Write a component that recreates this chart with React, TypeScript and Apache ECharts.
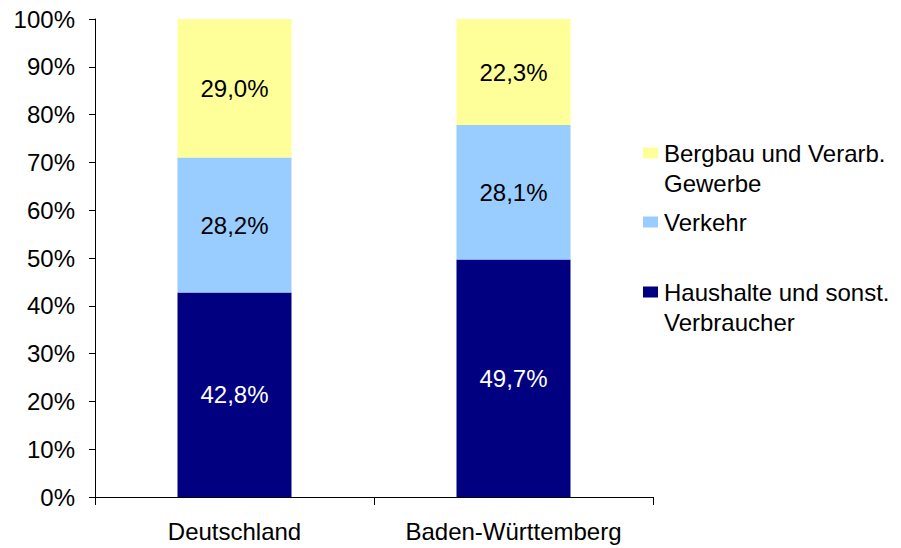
import React, { useEffect, useRef } from "react";
import * as echarts from "echarts";

const categories = ["Deutschland", "Baden-Württemberg"];
const seriesNames = ["Haushalte und sonst. Verbraucher", "Verkehr", "Bergbau und Verarb. Gewerbe"];
const haushalte = [42.8, 49.7];
const verkehr = [28.2, 28.1];
const bergbau = [29.0, 22.3];
const colors = ["#000080", "#99CCFF", "#FFFF99"];
const labelColors = ["#ffffff", "#000000", "#000000"];

const FONT = "'Liberation Sans', Arial, sans-serif";
const FS = 24;

const fmt = (v: number) => v.toFixed(1).replace(".", ",") + "%";

export default function App() {
  const ref = useRef<HTMLDivElement>(null);
  useEffect(() => {
    if (!ref.current) return;
    const chart = echarts.init(ref.current, undefined, { renderer: "svg" });
    const values = [haushalte, verkehr, bergbau];
    const legendText = (name: string) => {
      if (name === seriesNames[2]) return "\nBergbau und Verarb.\nGewerbe";
      if (name === seriesNames[0]) return "\nHaushalte und sonst.\nVerbraucher";
      return name;
    };
    const legendBase = {
      orient: "vertical" as const,
      left: 643,
      padding: 0,
      itemWidth: 15,
      itemHeight: 11,
      itemGap: 0,
      icon: "rect",
      formatter: legendText,
      textStyle: { fontFamily: FONT, fontSize: FS, color: "#000", lineHeight: 30, padding: [0, 0, 0, 1] },
    };
    chart.setOption({
      animation: false,
      backgroundColor: "#ffffff",
      textStyle: { fontFamily: FONT },
      grid: { left: 95, right: 248, top: 19, bottom: 51, containLabel: false },
      legend: [
        { ...legendBase, top: 108, data: [seriesNames[2]] },
        { ...legendBase, top: 207, data: [seriesNames[1]] },
        { ...legendBase, top: 247, data: [seriesNames[0]] },
      ],
      xAxis: {
        type: "category",
        data: categories,
        boundaryGap: true,
        axisLine: { show: true, lineStyle: { color: "#000", width: 1 } },
        axisTick: { show: true, alignWithLabel: false, length: 8, lineStyle: { color: "#000" } },
        axisLabel: { fontFamily: FONT, fontSize: FS, color: "#000", margin: 22, interval: 0, hideOverlap: false },
      },
      yAxis: {
        type: "value",
        min: 0,
        max: 100,
        interval: 10,
        splitLine: { show: false },
        axisLine: { show: true, lineStyle: { color: "#000", width: 1 } },
        axisTick: { show: true, length: 6, lineStyle: { color: "#000" } },
        axisLabel: { fontFamily: FONT, fontSize: FS, color: "#000", margin: 20, formatter: "{value}%" },
      },
      series: values.map((vals, i) => ({
        name: seriesNames[i],
        type: "bar",
        stack: "total",
        barWidth: 114,
        data: vals,
        itemStyle: { color: colors[i] },
        label: {
          show: true,
          position: "inside",
          fontFamily: FONT,
          fontSize: FS,
          color: labelColors[i],
          formatter: (p: any) => fmt(p.value),
        },
      })),
    });
    return () => chart.dispose();
  }, []);
  return (
    <div
      ref={ref}
      style={{ position: "fixed", left: 0, top: 0, width: 901, height: 548, background: "#fff" }}
    />
  );
}
